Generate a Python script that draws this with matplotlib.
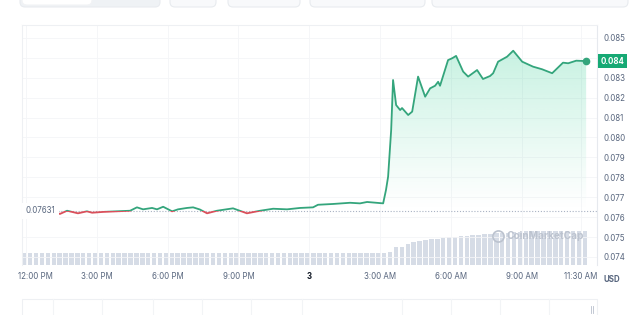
import numpy as np
import matplotlib.pyplot as plt
import matplotlib.transforms as mtransforms
from matplotlib.path import Path
from matplotlib.patches import Rectangle, FancyBboxPatch
from matplotlib.colors import to_rgb

plt.rcParams['font.family'] = ['Inter', 'DejaVu Sans']

# ------------------------------------------------------
# DATA (hours after 12:00 PM, price in USD)
# ------------------------------------------------------
hours = [-0.17, 1.23, 1.44, 1.74, 2.20, 2.58, 2.80, 3.26, 4.41, 4.70,
         4.96, 5.34, 5.55, 5.81, 6.19, 6.44, 6.82, 7.08, 7.37, 7.67,
         8.09, 8.77, 9.36, 9.92, 10.47, 11.06, 11.61, 12.16, 12.37, 13.01,
         13.73, 14.15, 14.45, 15.13, 15.25, 15.34, 15.47, 15.55, 15.68, 15.85,
         15.93, 16.19, 16.36, 16.61, 16.91, 17.12, 17.33, 17.46, 17.54, 17.88,
         18.05, 18.22, 18.52, 18.73, 19.11, 19.36, 19.66, 19.79, 20.00, 20.38,
         20.64, 21.02, 21.48, 21.86, 22.29, 22.75, 22.97, 23.31, 23.73]
prices = [0.07626, 0.07621, 0.07616, 0.07632, 0.07619, 0.07629, 0.07622, 0.07626, 0.07632, 0.07649,
          0.07639, 0.07646, 0.07639, 0.07652, 0.07629, 0.07639, 0.07646, 0.07649, 0.07638, 0.07619,
          0.07632, 0.07644, 0.07619, 0.07632, 0.07642, 0.07639, 0.07646, 0.07649, 0.07662, 0.07666,
          0.07672, 0.07669, 0.07676, 0.07669, 0.07736, 0.07803, 0.08038, 0.08289, 0.08163, 0.08138,
          0.08148, 0.08113, 0.08130, 0.08306, 0.08205, 0.08247, 0.08260, 0.08280, 0.08260, 0.08389,
          0.08398, 0.08410, 0.08331, 0.08306, 0.08339, 0.08294, 0.08309, 0.08323, 0.08381, 0.08406,
          0.08436, 0.08381, 0.08356, 0.08343, 0.08323, 0.08376, 0.08373, 0.08386, 0.08384]
open_price = 0.07631

# volume bars, one per 15 min starting at the left edge
vol_start, vol_step = -0.17, 0.25
volumes = [4.1, 4.1, 4.1, 4.1, 4.1, 4.1, 4.1, 4.1, 4.1, 4.1,
           4.1, 4.1, 4.1, 4.1, 4.1, 4.1, 4.1, 4.1, 4.1, 4.1,
           4.1, 4.1, 4.1, 4.1, 4.1, 4.1, 4.1, 4.1, 4.1, 4.1,
           4.1, 4.1, 4.1, 4.1, 4.1, 4.1, 4.1, 4.1, 4.1, 4.1,
           4.1, 4.1, 4.1, 4.1, 4.1, 4.1, 4.1, 4.1, 4.1, 4.1,
           4.1, 4.1, 4.1, 4.1, 4.1, 4.1, 4.1, 4.1, 4.1, 4.1,
           4.1, 4.1, 4.5, 6.0, 6.3, 7.2, 7.9, 8.2, 8.5, 8.9,
           9.0, 9.2, 9.4, 9.6, 9.8, 9.9, 10.1, 10.3, 10.5, 10.6,
           10.8, 11.0, 11.1, 11.3, 11.4, 11.5, 11.6, 11.6, 11.6, 11.6,
           11.6, 11.6, 11.6, 11.6, 11.6, 11.6]

tick_hours = [0, 3, 6, 9, 12, 15, 18, 21, 23.5]
tick_labels = ['12:00 PM', '3:00 PM', '6:00 PM', '9:00 PM', '3',
               '3:00 AM', '6:00 AM', '9:00 AM', '11:30 AM']
price_ticks = [0.074, 0.075, 0.076, 0.077, 0.078, 0.079,
               0.080, 0.081, 0.082, 0.083, 0.084, 0.085]

# ------------------------------------------------------
# STYLE
# ------------------------------------------------------
green = '#34a57c'
fill_green = '#16c784'
red = '#d9505b'
grey_txt = '#58667e'
light = '#eef0f3'

hours = np.array(hours)
prices = np.array(prices)
xlim = (-0.17, 24.19)
ylim = (0.073593, 0.085653)

fig = plt.figure(figsize=(6.4, 3.15), dpi=100)
ax = fig.add_axes([22 / 640, 1 - 265 / 315, 575 / 640, 240 / 315])
ax2 = ax.twinx()
ax.set_zorder(ax2.get_zorder() + 1)
ax.patch.set_visible(False)

# volume
vol_x = vol_start + vol_step * np.arange(len(volumes))
ax2.bar(vol_x, volumes, width=0.19, align='edge', color='#d6dce6', lw=0)
ax2.set_ylim(0, 82)
ax2.set_yticks([])
for s in ax2.spines.values():
    s.set_visible(False)

ax.set_xlim(*xlim)
ax.set_ylim(*ylim)

# gradient fill above the open price
fb = ax.fill_between(hours, prices, open_price, where=prices >= open_price,
                     interpolate=True, facecolor='none', edgecolor='none')
clip = Path.make_compound_path(*fb.get_paths())
grad = np.zeros((256, 1, 4))
grad[..., :3] = to_rgb(fill_green)
grad[:, 0, 3] = np.linspace(0.0, 0.27, 256) ** 1.1
im = ax.imshow(grad, extent=[xlim[0], xlim[1], open_price, prices.max()],
               origin='lower', aspect='auto', zorder=1, interpolation='bilinear')
im.set_clip_path(clip, transform=ax.transData)
ax.fill_between(hours, prices, open_price, where=prices < open_price,
                interpolate=True, color=red, alpha=0.08, lw=0)
ax.set_xlim(*xlim)
ax.set_ylim(*ylim)

# price line: green above open, red below
lg, = ax.plot(hours, prices, color=green, lw=1.3, zorder=3, solid_joinstyle='round')
lr, = ax.plot(hours, prices, color=red, lw=1.3, zorder=3, solid_joinstyle='round')
lg.set_clip_path(Rectangle((xlim[0], open_price), 30, 1, transform=ax.transData))
lr.set_clip_path(Rectangle((xlim[0], open_price - 1), 30, 1, transform=ax.transData))
ax.plot(hours[-1], prices[-1], 'o', color=green, ms=4.5, zorder=4)

# open price reference
ax.axhline(open_price, xmin=33 / 575, color='#a9b2c3', ls=(0, (1, 1.6)), lw=0.8, zorder=2)
bl = mtransforms.blended_transform_factory(ax.transAxes, ax.transData)
ax.text(0.006, open_price, '0.07631', transform=bl, ha='left', va='center',
        fontsize=5.7, color=grey_txt, zorder=5,
        bbox=dict(boxstyle='square,pad=0.45', fc='white', ec='none'))

# last price tag (takes the place of the 0.084 tick label)
ax.text(1.006, prices[-1], '0.084', transform=bl, ha='left', va='center',
        fontsize=5.7, color='white', weight='bold', zorder=6, clip_on=False,
        bbox=dict(boxstyle='square,pad=0.35', fc='#16a974', ec='none'))

# watermark
ax.plot(20.0, 0.07505, 'o', ms=8, mfc='none', mec='#bcc3cf', mew=1.2, zorder=2)
ax.text(20.35, 0.07505, 'CoinMarketCap', fontsize=7.3, weight='bold',
        color='#bcc3cf', va='center', ha='left', zorder=2)

# axes styling
ax.yaxis.tick_right()
ax.set_yticks(price_ticks)
ax.set_yticklabels(['' if t == 0.084 else f'{t:.3f}' for t in price_ticks])
ax.set_xticks(tick_hours)
ax.set_xticklabels(tick_labels)
ax.tick_params(axis='y', length=0, pad=5, labelsize=5.7, labelcolor=grey_txt)
ax.tick_params(axis='x', length=0, pad=5, labelsize=5.7, labelcolor=grey_txt)
xl = ax.get_xticklabels()
xl[4].set_fontweight('bold')
xl[4].set_color('#0d1421')
xl[0].set_transform(xl[0].get_transform() +
                    mtransforms.ScaledTranslation(0.09, 0, fig.dpi_scale_trans))
ax.grid(True, color='#f4f5f7', lw=0.6, zorder=0)
ax.set_axisbelow(True)
for name, s in ax.spines.items():
    s.set_color(light)
    s.set_linewidth(0.8)
ax.spines['bottom'].set_visible(False)
ax.spines['right'].set_color('#e6e9ee')

fig.text(603 / 640, 1 - 280 / 315, 'USD', fontsize=5.7, color=grey_txt,
         weight='bold', ha='left', va='center')

# ------------------------------------------------------
# SURROUNDING UI (toolbar and navigator)
# ------------------------------------------------------
def ui_box(x0, x1, y0, y1, fc, ec):
    fig.patches.append(FancyBboxPatch((x0 / 100, (315 - y1) / 100), (x1 - x0) / 100,
                                      (y1 - y0) / 100, boxstyle='round,pad=0,rounding_size=0.05',
                                      fc=fc, ec=ec, lw=0.8, transform=fig.dpi_scale_trans))

ui_box(20, 160, -12, 7, '#eff2f5', '#e8ebef')
ui_box(22, 92, -12, 5, 'white', '#f2f3f5')
for x0, x1 in [(170, 216), (228, 300), (310, 425), (432, 628)]:
    ui_box(x0, x1, -12, 7, '#f8f9fb', '#e8ebef')

fig.patches.append(Rectangle((22 / 100, -0.05), 575 / 100, (315 - 299) / 100 + 0.05,
                             fc='white', ec=light, lw=0.8, transform=fig.dpi_scale_trans))
for xd in [53, 102, 153, 202, 251, 302, 402, 451, 500, 549]:
    fig.lines.append(plt.Line2D([xd / 100, xd / 100], [0, (315 - 299) / 100],
                                color='#f2f4f6', lw=0.8, transform=fig.dpi_scale_trans))
for xd in [590.5, 592.5]:
    fig.lines.append(plt.Line2D([xd / 100, xd / 100], [(315 - 313) / 100, (315 - 306) / 100],
                                color='#b8bfcc', lw=0.6, transform=fig.dpi_scale_trans))

fig.savefig('out.png', dpi=100)
